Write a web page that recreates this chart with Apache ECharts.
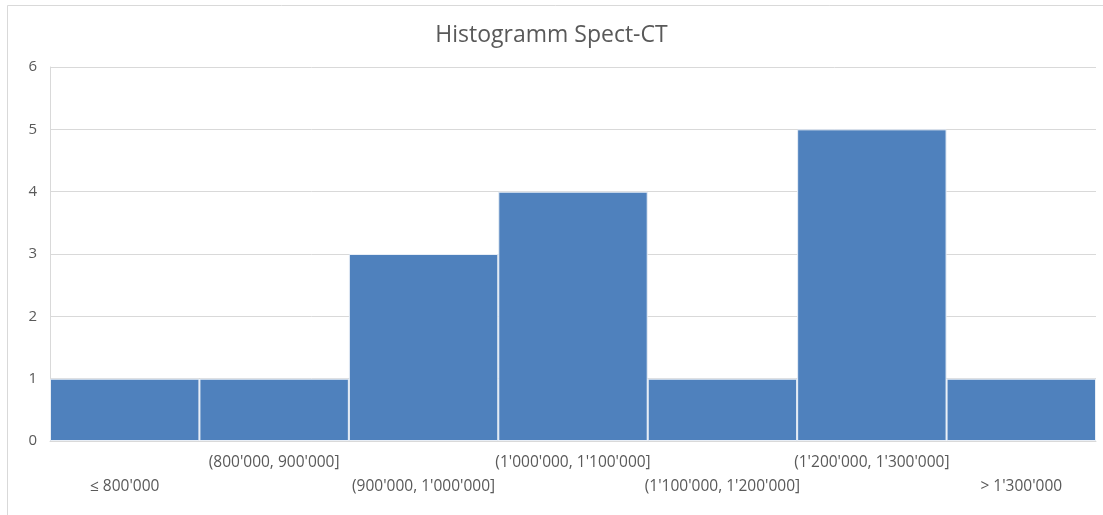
<!DOCTYPE html>
<html>
<head>
<meta charset="utf-8">
<script src="https://cdn.jsdelivr.net/npm/echarts@6/dist/echarts.min.js"></script>
<style>
html,body{margin:0;padding:0;background:#fff;}
#chart{width:1103px;height:515px;}
</style>
</head>
<body>
<div id="chart"></div>
<script>
const categories = ["≤ 800'000", "(800'000, 900'000]", "(900'000, 1'000'000]", "(1'000'000, 1'100'000]", "(1'100'000, 1'200'000]", "(1'200'000, 1'300'000]", "> 1'300'000"];
const counts = [1, 1, 3, 4, 1, 5, 1];
const yTicks = { min: 0, max: 6, interval: 1 };

const chart = echarts.init(document.getElementById('chart'), null, { renderer: 'canvas' });
const font = "'Open Sans', 'Noto Sans', sans-serif";
chart.setOption({
  animation: false,
  backgroundColor: '#fff',
  graphic: [{
    type: 'rect', shape: { x: 7.5, y: 5.5, width: 1100, height: 520 },
    style: { fill: 'none', stroke: '#d9d9d9', lineWidth: 1 }, silent: true
  }],
  title: {
    text: 'Histogramm Spect-CT', left: 'center', top: 19,
    textStyle: { fontFamily: font, fontSize: 23, fontWeight: 'normal', color: '#595959' }
  },
  grid: { left: 50, right: 7, top: 67, bottom: 74, containLabel: false },
  xAxis: {
    type: 'category', data: categories,
    axisLine: { show: true, lineStyle: { color: '#d9d9d9' } },
    axisTick: { show: false },
    axisLabel: {
      interval: 0, hideOverlap: false, margin: 14,
      color: '#595959', fontFamily: font, fontSize: 15.5,
      formatter: (v, i) => i % 2 === 0 ? '{lo|' + v + '}' : '{hi|' + v + '}',
      rich: {
        hi: { color: '#595959', fontFamily: font, fontSize: 15.5, padding: [0, 0, 0, 0] },
        lo: { color: '#595959', fontFamily: font, fontSize: 15.5, padding: [24, 0, 0, 0] }
      }
    }
  },
  yAxis: {
    type: 'value', min: yTicks.min, max: yTicks.max, interval: yTicks.interval,
    axisLine: { show: true, lineStyle: { color: '#d9d9d9' } },
    axisTick: { show: false },
    splitLine: { lineStyle: { color: '#d9d9d9' } },
    axisLabel: { color: '#595959', fontFamily: font, fontSize: 15, margin: 13 }
  },
  series: [{
    type: 'bar', data: counts, barCategoryGap: 0,
    itemStyle: { color: '#4f81bd', borderColor: '#e8eef6', borderWidth: 1 }
  }]
});
</script>
</body>
</html>
